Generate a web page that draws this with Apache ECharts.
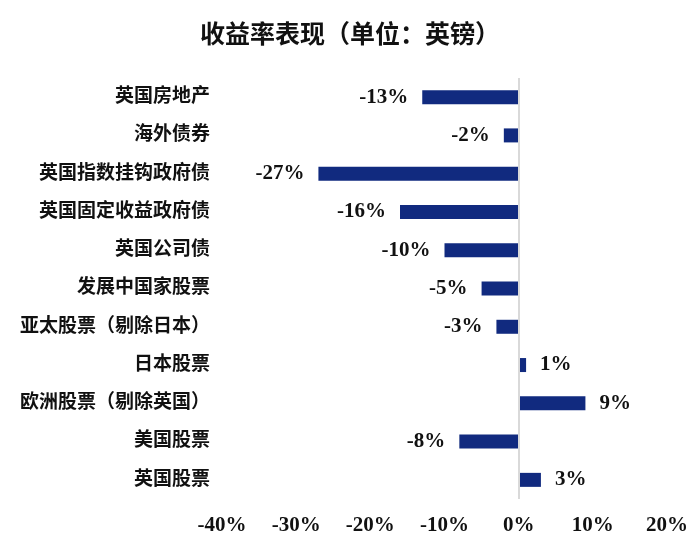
<!DOCTYPE html>
<html><head><meta charset="utf-8">
<script src="https://cdn.jsdelivr.net/npm/echarts@6/dist/echarts.min.js"></script>
<style>html,body{margin:0;padding:0;background:#fff}#c{width:700px;height:554px}</style>
</head><body><div id="c"></div>
<script>
const categories = ['英国房地产','海外债券','英国指数挂钩政府债','英国固定收益政府债','英国公司债','发展中国家股票','亚太股票（剔除日本）','日本股票','欧洲股票（剔除英国）','美国股票','英国股票'];
const values = [-13,-2,-27,-16,-10,-5,-3,1,9,-8,3];
const xTicks = {min:-40, max:20, interval:10};
const FONT = '"Liberation Serif","DejaVu Serif","Noto Sans CJK SC",serif';
const CJK = '"Liberation Serif","Noto Sans CJK SC",serif';
const chart = echarts.init(document.getElementById('c'), null, {renderer:'canvas'});
chart.setOption({
  animation:false,
  backgroundColor:'#fff',
  title:{text:'收益率表现（单位：英镑）', left:'center', top:19,
    textStyle:{fontFamily:CJK, fontSize:25, fontWeight:'bold', color:'#111'}},
  grid:{left:222, right:33, top:78, bottom:55, containLabel:false},
  xAxis:{type:'value', min:xTicks.min, max:xTicks.max, interval:xTicks.interval,
    axisLine:{show:false}, axisTick:{show:false}, splitLine:{show:false},
    axisLabel:{formatter:v=>v+'%', margin:16, fontFamily:FONT, fontSize:21, fontWeight:'bold', color:'#111'}},
  yAxis:{type:'category', inverse:true, data:categories,
    axisLine:{show:false, onZero:false}, axisTick:{show:false},
    axisLabel:{margin:12, fontFamily:CJK, fontSize:19, fontWeight:'bold', color:'#111'}},
  series:[{type:'bar', data:values.map(v=>({value:v, label:{position: v<0?'left':'right'}})),
    barWidth:14, itemStyle:{color:'#112a7f'},
    label:{show:true, distance:14, formatter:p=>p.value+'%', fontFamily:FONT, fontSize:21, fontWeight:'bold', color:'#111'},
    markLine:{silent:true, symbol:'none', label:{show:false},
      lineStyle:{color:'#d9d9d9', width:2, type:'solid'}, data:[{xAxis:0}]}
  }]
});
</script></body></html>
